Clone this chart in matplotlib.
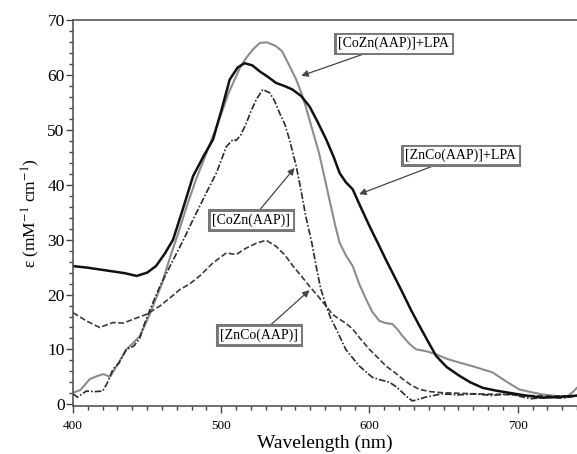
import matplotlib
matplotlib.use("Agg")
import matplotlib.pyplot as plt
from matplotlib.ticker import MultipleLocator
import numpy as np

plt.rcParams['font.family'] = ['Liberation Serif', 'DejaVu Serif']
plt.rcParams['mathtext.fontset'] = 'stix'

# [ZnCo(AAP)]+LPA
wl_znco_lpa = [400, 410, 425, 435, 443, 450, 456, 462, 467.5, 474, 481, 488, 494.5, 500, 505.7, 511, 515.8, 521, 526, 531, 537, 543, 548, 554,
               559.6, 565, 570.8, 576, 579.8, 584, 588.7, 594, 600, 606, 611, 617, 622.4, 628, 633.7, 640, 645, 652, 660.6, 668, 676.3,
               685, 694, 705, 716.7, 726, 736.7, 740]
eps_znco_lpa = [25.2, 24.9, 24.3, 23.9, 23.4, 24.0, 25.2, 27.5, 30.0, 35.5, 41.6, 45.2, 48.3, 53.5, 59.2, 61.4, 62.2, 61.8, 60.7, 59.8, 58.6, 58.0, 57.4, 56.2,
                54.3, 51.5, 48.3, 45.0, 42.2, 40.5, 39.2, 36.0, 32.5, 29.2, 26.4, 23.2, 20.3, 17.2, 14.3, 11.2, 8.8, 6.8, 5.2, 4.0, 3.0,
                2.5, 2.1, 1.6, 1.2, 1.3, 1.5, 1.6]

# [CoZn(AAP)]+LPA
wl_cozn_lpa = [400, 405, 411.4, 416, 420.4, 425, 430, 436, 440, 445, 450, 454, 460, 465, 471, 476.6, 483, 490, 496, 501, 505, 510, 513, 517, 521,
               526, 531, 537, 541, 544, 547, 550.6, 554, 557, 561, 566, 570, 573, 577, 579.8, 584, 588.7, 593, 597.8, 602, 606.7, 611,
               615.7, 619, 622.4, 627, 631.4, 638, 645, 652, 660.6, 670, 683, 692, 701, 709, 716.7, 726, 733, 737, 740]
eps_cozn_lpa = [2.1, 2.6, 4.6, 5.1, 5.5, 5.0, 7.2, 10.0, 11.0, 12.4, 15.3, 17.9, 22.0, 26.4, 31.2, 36.0, 41.0, 45.8, 50.0, 53.7, 56.8, 59.8, 61.6, 63.2, 64.6,
                65.9, 66.0, 65.3, 64.4, 62.8, 61.2, 59.2, 56.8, 54.3, 50.5, 45.8, 41.0, 37.3, 32.5, 29.5, 27.2, 25.2, 22.0, 19.1, 16.8, 15.2, 14.8,
                14.6, 13.6, 12.4, 11.0, 10.0, 9.7, 9.1, 8.3, 7.6, 6.9, 5.8, 4.2, 2.7, 2.2, 1.8, 1.5, 1.3, 2.2, 3.0]

# [CoZn(AAP)]
wl_cozn = [400, 403, 409, 415, 420, 423, 427, 431, 436, 441, 445, 448, 452, 458.6, 464, 470, 476, 481, 486, 490, 496.8, 503.5, 508, 510, 513, 517,
           520, 523.7, 528, 532.7, 536, 539.4, 543, 546, 550.6, 554, 557, 561, 564, 567, 570.8, 574, 577.6, 584, 593, 602, 608, 613.5,
           618, 622.4, 626, 629, 633, 638, 649, 660, 671, 682, 694, 702, 709, 720, 730, 740]
eps_cozn = [1.9, 1.3, 2.4, 2.3, 2.4, 3.8, 6.4, 7.5, 10.0, 10.6, 12.0, 14.5, 17.3, 21.5, 24.4, 27.6, 30.8, 33.7, 36.4, 38.6, 42.2, 47.0, 48.3, 48.1, 49.0, 51.3,
            53.4, 55.6, 57.4, 56.8, 55.3, 53.1, 51.0, 48.3, 43.4, 38.8, 34.3, 29.6, 25.2, 21.2, 17.9, 15.6, 13.7, 10.0, 7.0, 4.9, 4.4, 4.0,
            3.2, 2.1, 1.2, 0.6, 0.9, 1.3, 1.9, 1.7, 1.9, 1.6, 1.9, 1.4, 1.0, 1.3, 1.1, 1.5]

# [ZnCo(AAP)]
wl_znco = [400, 409, 418, 427, 434, 440.6, 449.6, 458.6, 465, 472, 479, 485.5, 494.5, 503.5, 510, 517, 524, 530.4, 537, 543, 548.4, 554, 559.6,
           565, 570.8, 575, 579.8, 584, 588.7, 594, 600, 606, 611, 617, 622.4, 628, 633.7, 641, 649, 660, 671, 688, 705, 720, 737, 740]
eps_znco = [16.7, 15.2, 14.0, 14.9, 14.8, 15.5, 16.4, 17.9, 19.3, 20.9, 22.0, 23.4, 25.8, 27.6, 27.3, 28.5, 29.4, 29.9, 28.8, 27.2, 25.2, 23.4, 21.5,
            19.8, 17.9, 16.4, 15.5, 14.8, 13.7, 11.9, 10.0, 8.4, 7.0, 5.8, 4.6, 3.5, 2.7, 2.3, 2.1, 2.0, 1.9, 1.8, 1.6, 1.5, 1.5, 1.5]

fig = plt.figure(figsize=(5.77, 4.54), dpi=100)
ax = fig.add_axes([0.1265, 0.106, 0.8735, 0.849])

ax.plot(wl_cozn_lpa, eps_cozn_lpa, color='#8c8c8c', lw=1.5)
ax.plot(wl_znco, eps_znco, color='#3a3a3a', lw=1.2, ls=(0, (3.5, 1.5)))
ax.plot(wl_cozn, eps_cozn, color='#2a2a2a', lw=1.2, ls=(0, (4, 1.2, 1, 1.2)))
ax.plot(wl_znco_lpa, eps_znco_lpa, color='#111111', lw=1.8)

ax.set_xlim(400, 740)
ax.set_ylim(-0.3, 70)
ax.xaxis.set_major_locator(MultipleLocator(100))
ax.xaxis.set_minor_locator(MultipleLocator(10))
ax.yaxis.set_major_locator(MultipleLocator(10))
ax.yaxis.set_minor_locator(MultipleLocator(2))
ax.tick_params(which='both', direction='out', color='#444', width=1.0)
ax.tick_params(which='major', length=5)
ax.tick_params(which='minor', length=3)
ax.tick_params(axis='x', labelsize=9.5, pad=5)
ax.tick_params(axis='y', labelsize=12.5, pad=1)
for side in ['left', 'bottom', 'top']:
    ax.spines[side].set_color('#555')
    ax.spines[side].set_linewidth(1.2)
ax.spines['right'].set_visible(False)

ax.set_xlabel('Wavelength (nm)', fontsize=14, labelpad=2)
ax.set_ylabel(r'ε (mM$^{-1}$ cm$^{-1}$)', fontsize=12.5, labelpad=4)

# labelled arrows to each curve
notes = [
    ('[CoZn(AAP)]+LPA', (554, 59.9), (616.5, 65.8)),
    ('[ZnCo(AAP)]+LPA', (593, 38.3), (661.7, 45.4)),
    ('[CoZn(AAP)]', (549.5, 43.1), (520.3, 33.6)),
    ('[ZnCo(AAP)]', (559.6, 20.8), (525.6, 12.6)),
]
for label, tip, pos in notes:
    ax.annotate(label, xy=tip, xytext=pos, ha='center', va='center', fontsize=10,
                bbox=dict(boxstyle='square,pad=0.22', fc='white', ec='#777', lw=2.2),
                arrowprops=dict(arrowstyle='-|>', color='#444', lw=0.9, mutation_scale=10,
                                shrinkA=0, shrinkB=0))
    ax.text(pos[0], pos[1], label, ha='center', va='center', fontsize=10,
            bbox=dict(boxstyle='square,pad=0.1', fc='white', ec='white', lw=0.8))

fig.savefig('out.png', dpi=100)
